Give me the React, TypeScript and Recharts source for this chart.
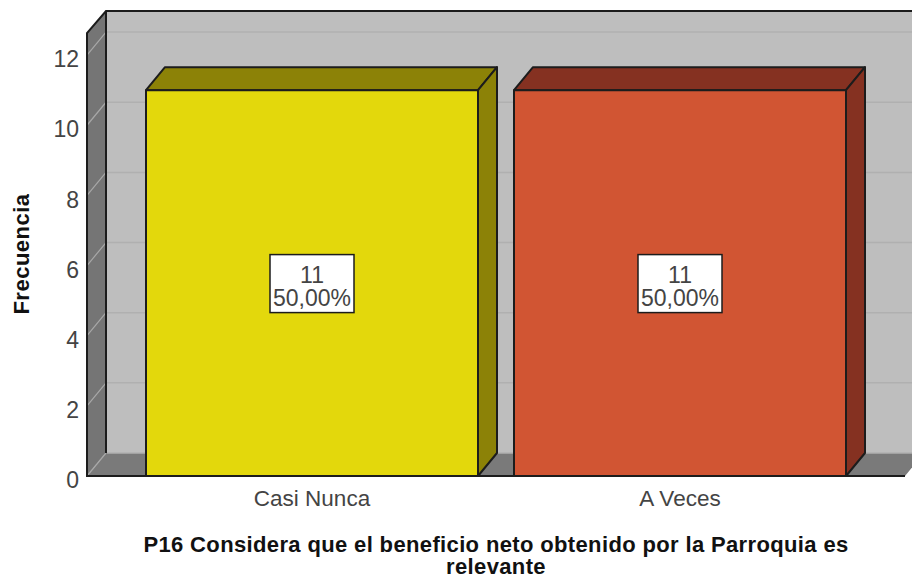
import React from "react";
import { BarChart, Bar, XAxis, YAxis, ReferenceArea, ReferenceLine, LabelList } from "recharts";

const categories = ["Casi Nunca", "A Veces"];
const counts = [11, 11];
const percents = ["50,00%", "50,00%"];
const yTicks = [0, 2, 4, 6, 8, 10, 12];
const yMax = 12.63;
const frontColors = ["#E3D80C", "#D15533"];
const topColors = ["#8C8207", "#853121"];
const xTitleLines = ["P16 Considera que el beneficio neto obtenido por la Parroquia es", "relevante"];
const yTitle = "Frecuencia";

const rows = categories.map((name, i) => ({ name, count: counts[i], percent: percents[i] }));

const W = 912, H = 579;
const DX = 19, DY = 23;
const PAD = 41;
const FONT = "'Liberation Sans', Arial, sans-serif";
const EDGE = "#1c1c1c";
const TEXT = "#444";

function Walls(p: any) {
  const x = p.x - PAD, width = p.width + 2 * PAD;
  const { y, height } = p;
  const x2 = x + width, yb = y + height;
  return (
    <g>
      <polygon points={`${x + DX},${y - DY + 1} ${x2 + DX},${y - DY + 1} ${x2 + DX},${yb - DY} ${x + DX},${yb - DY}`} fill="#BEBEBE" />
      <polygon points={`${x},${yb} ${x},${y} ${x + DX},${y - DY + 1} ${x + DX},${yb - DY}`} fill="#757575" />
      <polygon points={`${x},${yb} ${x + DX},${yb - DY} ${x2 + DX},${yb - DY} ${x2},${yb}`} fill="#7A7A7A" />
    </g>
  );
}

function WallEdges(p: any) {
  const x = p.x - PAD, width = p.width + 2 * PAD;
  const { y, height } = p;
  const x2 = x + width, yb = y + height;
  return (
    <path d={`M${x2},${yb} L${x},${yb} L${x},${y} L${x + DX},${y - DY + 1} L${x2 + DX},${y - DY + 1} M${x + DX},${y - DY + 1} L${x + DX},${yb - DY}`} stroke={EDGE} strokeWidth={2} fill="none" />
  );
}

function GridLine(p: any) {
  const { x1, x2, y1 } = p;
  return (
    <g>
      <line x1={x1} y1={y1} x2={x1 + DX} y2={y1 - DY} stroke="#A8A8A8" strokeWidth={1.2} />
      <line x1={x1 + DX + 1} y1={y1 - DY} x2={x2 + DX} y2={y1 - DY} stroke="#B0B0B0" strokeWidth={1.5} />
    </g>
  );
}

function Bar3D(p: any) {
  const { x, y, width, height, index } = p;
  const x2 = x + width, yb = y + height;
  const top = `${x},${y} ${x + DX},${y - DY} ${x2 + DX},${y - DY} ${x2},${y}`;
  const side = `${x2},${y} ${x2 + DX},${y - DY} ${x2 + DX},${yb - DY} ${x2},${yb}`;
  const common = { stroke: EDGE, strokeWidth: 2, strokeLinejoin: "round" as const };
  return (
    <g>
      <polygon points={top} fill={topColors[index]} {...common} />
      <polygon points={side} fill={topColors[index]} {...common} />
      <rect x={x} y={y} width={width} height={height} fill={frontColors[index]} {...common} />
    </g>
  );
}

function BoxLabel(p: any) {
  const { x, y, width, height, index } = p;
  const cx = x + width / 2, cy = y + height / 2 + 0.5;
  return (
    <g fontFamily={FONT} fontSize={23} fill={TEXT} textAnchor="middle">
      <rect x={cx - 42} y={cy - 29} width={84} height={58} fill="#fff" stroke={EDGE} strokeWidth={1.5} />
      <text x={cx} y={cy - 1}>{counts[index]}</text>
      <text x={cx} y={cy + 22}>{percents[index]}</text>
    </g>
  );
}

function XTitle() {
  return (
    <g fontFamily={FONT} fontSize={22} letterSpacing={0.36} fontWeight="bold" fill="#111" textAnchor="middle">
      <text x={496} y={552}>{xTitleLines[0]}</text>
      <text x={496} y={574}>{xTitleLines[1]}</text>
    </g>
  );
}

function YTitle() {
  return (
    <text x={29} y={254} transform={`rotate(-90 29 254)`} fontFamily={FONT} fontSize={22} letterSpacing={0.5} fontWeight="bold" fill="#111" textAnchor="middle">{yTitle}</text>
  );
}

export default function App() {
  const lineZ: any = { zIndex: 150 };
  const edgeZ: any = { zIndex: 200 };
  return (
    <div style={{ position: "absolute", left: 0, top: 0, width: W, height: H, background: "#fff", overflow: "hidden" }}>
      <BarChart width={W} height={H} data={rows} margin={{ top: 33, right: 7, bottom: 0, left: 0 }} barSize={332}>
        <ReferenceArea y1={0} y2={yMax} ifOverflow="visible" shape={(a: any) => <Walls {...a} />} />
        {yTicks.map((t) => (
          <ReferenceLine key={t} y={t} ifOverflow="visible" {...lineZ} shape={(g: any) => <GridLine x1={g.x1} x2={g.x2} y1={g.y1} />} />
        ))}
        <ReferenceArea y1={0} y2={yMax} ifOverflow="visible" {...edgeZ} shape={(a: any) => <WallEdges {...a} />} />
        <XAxis
          dataKey="name"
          axisLine={false}
          tickLine={false}
          padding={{ left: PAD, right: PAD }}
          height={103}
          tick={{ fontFamily: FONT, fontSize: 22.5, fill: TEXT }}
          tickMargin={8}
          label={{ content: () => <XTitle /> }}
        />
        <YAxis
          type="number"
          domain={[0, yMax]}
          ticks={yTicks}
          width={87}
          axisLine={false}
          tickLine={false}
          tickMargin={2}
          tick={{ fontFamily: FONT, fontSize: 23, fill: TEXT, dy: 4 }}
          label={{ content: () => <YTitle /> }}
        />
        <Bar dataKey="count" isAnimationActive={false} shape={(b: any) => <Bar3D {...b} />}>
          <LabelList dataKey="count" content={(l: any) => <BoxLabel {...l} />} />
        </Bar>
      </BarChart>
    </div>
  );
}
